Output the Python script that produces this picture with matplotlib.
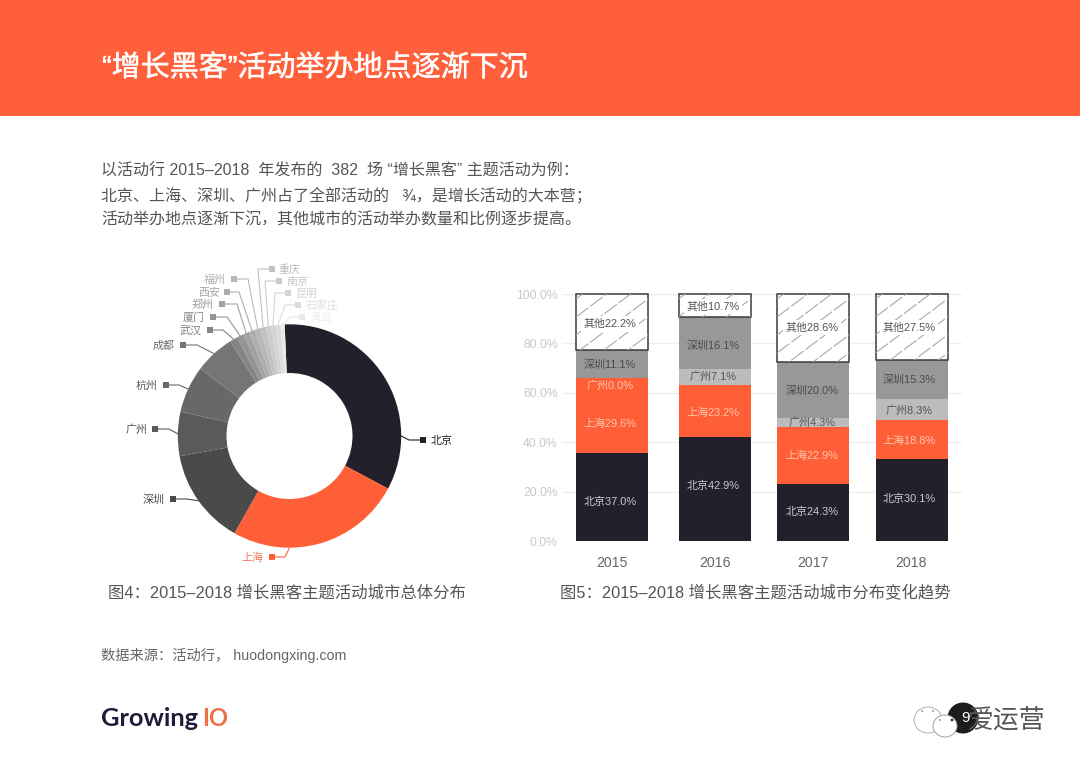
import matplotlib
matplotlib.use("Agg")
import numpy as np
import matplotlib.pyplot as plt
import matplotlib.patheffects as pe
from matplotlib.patches import Rectangle, Circle, Ellipse

plt.rcParams['font.family'] = ['Liberation Sans', 'Noto Sans CJK SC', 'DejaVu Sans']

# =====================
# Data
# =====================
cities = ["北京", "上海", "深圳", "广州", "杭州", "成都", "武汉", "厦门", "郑州", "西安",
          "福州", "重庆", "南京", "昆明", "石家庄", "青岛"]
city_share = [33.5, 25.4, 13.9, 6.4, 6.8, 5.8, 1.1, 1.0, 0.9, 0.9, 0.8, 0.8, 0.7, 0.7, 0.7, 0.6]

years = ["2015", "2016", "2017", "2018"]
beijing = [35.6, 42.1, 23.0, 33.3]
shanghai = [30.4, 21.1, 23.2, 15.7]
guangzhou = [0.0, 6.4, 3.8, 8.5]
shenzhen = [11.3, 21.1, 22.5, 15.8]
others = [22.7, 9.3, 27.5, 26.7]

beijing_labels = ["北京37.0%", "北京42.9%", "北京24.3%", "北京30.1%"]
shanghai_labels = ["上海29.6%", "上海23.2%", "上海22.9%", "上海18.8%"]
guangzhou_labels = ["广州0.0%", "广州7.1%", "广州4.3%", "广州8.3%"]
shenzhen_labels = ["深圳11.1%", "深圳16.1%", "深圳20.0%", "深圳15.3%"]
others_labels = ["其他22.2%", "其他10.7%", "其他28.6%", "其他27.5%"]

pct_ticks = [0, 20, 40, 60, 80, 100]
pct_labels = ["0.0%", "20.0%", "40.0%", "60.0%", "80.0%", "100.0%"]

# =====================
# Styles and placement (pixels of the 1080x769 page)
# =====================
DARK = "#231f2b"
ORANGE = "#ff5f36"
slice_colors = [DARK, ORANGE, "#4a4a4a", "#5a5a5a", "#686868", "#757575", "#858585", "#949494",
                "#a2a2a2", "#aeaeae", "#b8b8b8", "#c2c2c2", "#cbcbcb", "#d4d4d4", "#dcdcdc", "#e8e8e8"]
label_colors = ["#231f2b", "#f0775a", "#4a4a4a", "#555555", "#606060", "#6c6c6c", "#7c7c7c", "#8a8a8a",
                "#999999", "#a4a4a4", "#aeaeae", "#bcbcbc", "#c6c6c6", "#d2d2d2", "#dedede", "#ececec"]
square_pos = [(423, 440), (272, 557), (173, 499), (155, 429), (166, 385), (183, 345), (210, 330),
              (213, 317), (222, 304), (227, 292), (234, 279), (272, 269), (279, 281), (288, 293),
              (298, 305), (302, 317)]
elbow_x = [409, 285, 187, 169, 179, 197, 223, 227, 237, 239, 248, 258, 265, 275, 285, 290]
text_x = [442, 252, 154, 137, 147, 164, 191, 194, 203, 209, 215, 289, 297, 307, 322, 321]
# the two big slices hang their leader away from the slice middle (degrees clockwise from top)
leader_deg = {0: 90, 1: 180}

cx, cy, R = 289.5, 436, 111.7
bar_x = [612, 714.5, 813, 911.5]
text_bar_x = [610, 713, 812, 909]
bar_w = 72

y_beijing = [15.7, 22.3, 11.6, 17.1]
y_shanghai = [47.4, 52.0, 34.4, 40.6]
y_guangzhou = [63.0, 66.5, 47.9, 52.8]
y_shenzhen = [71.5, 79.2, 60.7, 65.2]
y_others = [87.9, 94.9, 86.4, 86.4]

W, H = 1080, 769
fig = plt.figure(figsize=(W / 100, H / 100), dpi=100, facecolor="white")


def axes_px(left, top, right, bottom):
    return fig.add_axes([left / W, 1 - bottom / H, (right - left) / W, (bottom - top) / H])


# page overlay, coordinates are pixels
page = fig.add_axes([0, 0, 1, 1], zorder=3)
page.set_xlim(0, W)
page.set_ylim(H, 0)
page.axis("off")
page.patch.set_alpha(0)

page.add_patch(Rectangle((0, 0), W, 116, color="#ff603b", lw=0))
page.text(102, 76, "“增长黑客”活动举办地点逐渐下沉", color="white", fontsize=20.9,
          va="baseline", ha="left",
          path_effects=[pe.withStroke(linewidth=0.3, foreground="white")])

intro = ["以活动行 2015–2018  年发布的  382  场 “增长黑客” 主题活动为例：",
         "北京、上海、深圳、广州占了全部活动的   ¾，是增长活动的大本营；",
         "活动举办地点逐渐下沉，其他城市的活动举办数量和比例逐步提高。"]
for line, y in zip(intro, [175.5, 200, 224]):
    page.text(101, y, line, color="#555555", fontsize=11.55, va="baseline", ha="left")

page.text(108, 598, "图4：2015–2018 增长黑客主题活动城市总体分布", color="#555555", fontsize=11.75,
          va="baseline", ha="left")
page.text(560, 598, "图5：2015–2018 增长黑客主题活动城市分布变化趋势", color="#555555", fontsize=11.75,
          va="baseline", ha="left")
page.text(101, 660, "数据来源：活动行， huodongxing.com", color="#666666", fontsize=10.3,
          va="baseline", ha="left")

# =====================
# Donut
# =====================
donut = axes_px(cx - R, cy - R, cx + R, cy + R)
wedges, _ = donut.pie(city_share, colors=slice_colors, startangle=92.5, counterclock=False, radius=1,
                      wedgeprops={"width": 1 - 63 / R, "linewidth": 0})
donut.set_xlim(-1, 1)
donut.set_ylim(-1, 1)

for i, w in enumerate(wedges):
    if i in leader_deg:
        mid = np.deg2rad(90 - leader_deg[i])
    else:
        mid = np.deg2rad((w.theta1 + w.theta2) / 2)
    ax0, ay0 = cx + R * np.cos(mid), cy - R * np.sin(mid)
    sx, sy = square_pos[i]
    page.plot([ax0, elbow_x[i], sx], [ay0, sy, sy], color=slice_colors[i], lw=0.8)
    page.add_patch(Rectangle((sx - 3, sy - 3), 6, 6, color=slice_colors[i], lw=0))
    page.text(text_x[i], sy + 1, cities[i], color=label_colors[i], fontsize=7.9,
              ha="center", va="center")

# =====================
# Stacked bars
# =====================
ax = axes_px(562, 294, 962, 541)
ax.set_xlim(562, 962)
ax.set_ylim(0, 100)
ax.set_axisbelow(True)
ax.grid(axis="y", color="#eeeeee", lw=1)
for s in ax.spines.values():
    s.set_visible(False)
ax.set_yticks(pct_ticks, pct_labels)
ax.set_xticks(bar_x, years)
ax.tick_params(axis="y", length=0, pad=3, labelcolor="#c9c9c9", labelsize=8.8)
ax.tick_params(axis="x", length=0, pad=10.5, labelcolor="#666666", labelsize=10.2)
ax.patch.set_alpha(0)

bottom = np.zeros(4)
series = [(beijing, DARK), (shanghai, ORANGE), (guangzhou, "#bdbbbb"), (shenzhen, "#999799")]
for vals, col in series:
    ax.bar(bar_x, vals, bar_w, bottom=bottom, color=col, lw=0)
    bottom += np.array(vals)

tops = ax.bar(bar_x, others, bar_w, bottom=bottom, color="white", edgecolor="#3a3a3a", lw=1.1,
              clip_on=False)

# sparse diagonal hatching, clipped to each box
for rect in tops:
    for off in range(-260, 90, 18):
        line, = page.plot([rect.get_x(), rect.get_x() + 160], [541 + off, 541 + off - 120],
                          color="#a8a8a8", lw=0.8, zorder=1, dashes=(14, 2))
        line.set_clip_path(rect)

label_sets = [(beijing_labels, y_beijing, "#c9c9cf"), (shanghai_labels, y_shanghai, "#ffc6ad"),
              (guangzhou_labels, y_guangzhou, "#555555"), (shenzhen_labels, y_shenzhen, "#4a4a4a")]
over = axes_px(562, 294, 962, 541)
over.set_xlim(562, 962)
over.set_ylim(0, 100)
over.axis("off")
over.set_zorder(5)
for labels, ys, col in label_sets:
    for i, (t, y) in enumerate(zip(labels, ys)):
        c = "#ffc6ad" if (labels is guangzhou_labels and i == 0) else col
        over.text(text_bar_x[i], y, t, color=c, fontsize=7.9, ha="center", va="center")
for i, (t, y) in enumerate(zip(others_labels, y_others)):
    over.text(text_bar_x[i], y, t, color="#555555", fontsize=7.9, ha="center", va="center",
              bbox=dict(facecolor="white", edgecolor="none", pad=2))

# =====================
# Logo and watermark
# =====================
page.text(101, 726, "Growing", family="Lato", fontweight="bold", fontsize=18.3, color="#1d1d3a",
          ha="left", va="baseline")
page.text(202, 726, "IO", family="Lato", fontweight="bold", fontsize=17, color="#ee7048",
          ha="left", va="baseline")

page.add_patch(Ellipse((928, 720), 28, 26, fc="white", ec="#b0b0b0", lw=0.7))
page.add_patch(Circle((963, 718), 15.5, fc="#1c1c1c", ec="none"))
page.add_patch(Ellipse((945, 726), 24, 22, fc="white", ec="#a0a0a0", lw=0.7))
for ex, ey, er in [(922, 711, 0.9), (933, 711, 0.9), (940, 720, 0.9), (952, 720, 1.4)]:
    page.add_patch(Circle((ex, ey), er, fc="#888888" if er < 1 else "#333333", ec="none"))
page.text(965, 718, "9", color="white", fontsize=11, ha="center", va="center")
page.text(968, 720, "爱运营", color="#555555", fontsize=18.6, ha="left", va="center")

fig.savefig("out.png", dpi=100)
